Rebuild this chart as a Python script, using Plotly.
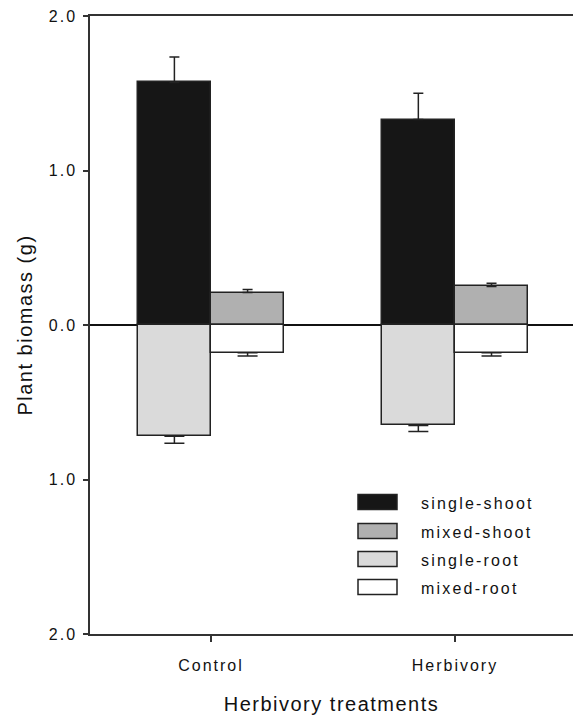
import plotly.graph_objects as go

categories = ["Control", "Herbivory"]
series_names = ["single-shoot", "mixed-shoot", "single-root", "mixed-root"]
single_shoot = [1.57, 1.33]
single_shoot_err = [0.165, 0.17]
mixed_shoot = [0.21, 0.25]
mixed_shoot_err = [0.02, 0.02]
single_root = [-0.72, -0.65]
single_root_err = [0.045, 0.04]
mixed_root = [-0.18, -0.18]
mixed_root_err = [0.02, 0.02]
y_tickvals = [-2, -1, 0, 1, 2]
y_ticktext = ["2.0", "1.0", "0.0", "1.0", "2.0"]

fills = ["#161616", "#b0b0b0", "#dadada", "#ffffff"]
edge = "#222222"
FONT = "Liberation Sans, Arial, sans-serif"
TXT = "#111111"


def sp(t, s=2):
    return f'<span style="letter-spacing:{s}px">{t}</span>'


xpos = list(range(len(categories)))
W = 0.3

fig = go.Figure()
specs = [
    (single_shoot, single_shoot_err, True, -W, fills[0], 5),
    (mixed_shoot, mixed_shoot_err, True, 0.0, fills[1], 5),
    (single_root, single_root_err, False, -W, fills[2], 10),
    (mixed_root, mixed_root_err, False, 0.0, fills[3], 10),
]
for name, (vals, errs, up, off, col, cw) in zip(series_names, specs):
    zeros = [0] * len(errs)
    fig.add_trace(go.Bar(
        x=xpos, y=vals, name=name, width=W, offset=off,
        marker=dict(color=col, line=dict(color=edge, width=1.5)),
        error_y=dict(type="data", symmetric=False,
                     array=errs if up else zeros,
                     arrayminus=zeros if up else errs,
                     color=edge, thickness=1.5, width=cw),
        showlegend=False,
    ))

# plot-area geometry (pixels) for the manual legend
L, T, B, R = 90, 16, 634, 573
def px_x(p):
    return (p - L) / (R - L)
def px_y(p):
    return (B - p) / (B - T)

shapes = []
annotations = []
centers = [502, 531, 559, 587]
for name, col, cy in zip(series_names, fills, centers):
    shapes.append(dict(type="rect", xref="paper", yref="paper",
                       x0=px_x(358), x1=px_x(397), y0=px_y(cy + 7.5), y1=px_y(cy - 7.5),
                       fillcolor=col, line=dict(color=edge, width=1.5)))
    annotations.append(dict(xref="paper", yref="paper", x=px_x(419), y=px_y(cy + 1),
                            text=sp(name, 2.2), showarrow=False, xanchor="left", yanchor="middle",
                            font=dict(family=FONT, size=16, color=TXT)))

fig.update_layout(
    width=573, height=716,
    margin=dict(l=L, r=0, t=T, b=716 - B),
    paper_bgcolor="white", plot_bgcolor="white",
    bargap=0,
    shapes=shapes, annotations=annotations,
    font=dict(family=FONT, size=16, color=TXT),
    xaxis=dict(
        range=[-0.496, 1.484], tickvals=xpos,
        ticktext=[sp(c) for c in categories],
        showline=True, linecolor="#333", linewidth=1.5, mirror=True,
        ticks="outside", ticklen=6, tickwidth=1.5, tickcolor="#333",
        showgrid=False, zeroline=False, ticklabelstandoff=10,
        tickfont=dict(family=FONT, size=16, color=TXT),
        title=dict(text=sp("Herbivory treatments", 1.5), standoff=24,
                   font=dict(family=FONT, size=20, color=TXT)),
    ),
    yaxis=dict(
        range=[-2, 2], tickvals=y_tickvals, ticktext=[sp(t) for t in y_ticktext],
        showline=True, linecolor="#333", linewidth=1.5, mirror=False,
        ticks="outside", ticklen=5, tickwidth=1.5, tickcolor="#333",
        showgrid=False, zeroline=True, zerolinecolor="#111", zerolinewidth=2,
        ticklabelstandoff=3,
        tickfont=dict(family=FONT, size=16, color=TXT),
        title=dict(text=sp("Plant biomass (g)", 1.5), standoff=11,
                   font=dict(family=FONT, size=20, color=TXT)),
    ),
)

fig.write_html("out.html")
